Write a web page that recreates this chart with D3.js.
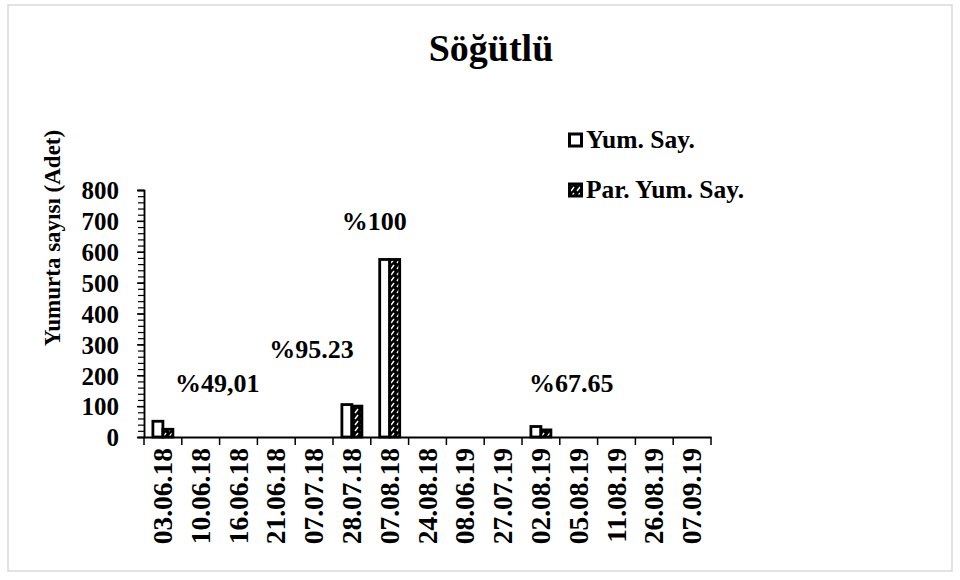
<!DOCTYPE html>
<html>
<head>
<meta charset="utf-8">
<script src="https://cdn.jsdelivr.net/npm/d3@7"></script>
<style>
  html, body { margin: 0; padding: 0; background: #fff; }
  svg text { font-family: "Liberation Serif", "Times New Roman", serif; font-weight: bold; fill: #000; }
</style>
</head>
<body>
<svg id="chart" width="960" height="580"></svg>
<script>
const dates = ["03.06.18","10.06.18","16.06.18","21.06.18","07.07.18","28.07.18","07.08.18","24.08.18","08.06.19","27.07.19","02.08.19","05.08.19","11.08.19","26.08.19","07.09.19"];
const seriesNames = ["Yum. Say.", "Par. Yum. Say."];
const yumSay    = [51, 0, 0, 0, 0, 105, 575, 0, 0, 0, 34, 0, 0, 0, 0];
const parYumSay = [25, 0, 0, 0, 0, 100, 575, 0, 0, 0, 23, 0, 0, 0, 0];
const yTicks = [0, 100, 200, 300, 400, 500, 600, 700, 800];
// percentage annotations: text, position in category units, height in data units
const pctText  = ["%49,01", "%95.23", "%100", "%67.65"];
const pctPos   = [1.94, 4.43, 6.09, 11.3];
const pctLevel = [146, 256, 669, 146];

const svg = d3.select("#chart");
const plotL = 144, plotR = 711, plotT = 190, plotB = 437;

// border
svg.append("rect").attr("x", 8).attr("y", 5).attr("width", 944).attr("height", 566)
  .attr("fill", "#fff").attr("stroke", "#d9d9d9").attr("stroke-width", 1.5);

// pattern for parasitized bars
const defs = svg.append("defs");
const pat = defs.append("pattern").attr("id", "hatch").attr("patternUnits", "userSpaceOnUse")
  .attr("width", 6).attr("height", 6);
pat.append("rect").attr("width", 6).attr("height", 6).attr("fill", "#000");
pat.append("path").attr("d", "M1,5 L4,1").attr("stroke", "#fff").attr("stroke-width", 1.4);

// title
svg.append("text").attr("x", 491).attr("y", 61).attr("text-anchor", "middle")
  .style("font-size", "38px").text("Söğütlü");

const x0 = d3.scaleBand().domain(dates).range([plotL, plotR]).paddingInner(0).paddingOuter(0);
const x1 = d3.scaleBand().domain(seriesNames).range([0, x0.bandwidth()]).paddingInner(0).paddingOuter(0.89);
const y = d3.scaleLinear().domain([0, 800]).range([plotB, plotT]);
const xi = d3.scaleLinear().domain([0, dates.length]).range([plotL, plotR]);

// bars
const data = dates.map((d, i) => ({ date: d, vals: [yumSay[i], parYumSay[i]] }));
const g = svg.append("g");
data.forEach(d => {
  d.vals.forEach((v, k) => {
    if (v <= 0) return;
    g.append("rect")
      .attr("x", x0(d.date) + x1(seriesNames[k]))
      .attr("y", y(v))
      .attr("width", x1.bandwidth())
      .attr("height", y(0) - y(v))
      .attr("fill", k === 0 ? "#fff" : "url(#hatch)")
      .attr("stroke", "#000").attr("stroke-width", 2.8);
  });
});

// y axis with minor ticks
const yMinor = d3.range(0, 801, 20);
svg.append("g").attr("transform", `translate(${plotL},0)`)
  .call(d3.axisLeft(y).tickValues(yMinor).tickSize(6).tickFormat(""))
  .call(s => s.select(".domain").attr("stroke-width", 1.5))
  .call(s => s.selectAll(".tick line").attr("stroke-width", 1.2));
const yAx = svg.append("g").attr("transform", `translate(${plotL},0)`)
  .call(d3.axisLeft(y).tickValues(yTicks).tickSize(7).tickPadding(18))
  .call(s => s.select(".domain").attr("stroke-width", 1.5))
  .call(s => s.selectAll(".tick line").attr("stroke-width", 1.5));
yAx.selectAll("text").style("font-size", "25px").style("font-family", '"Liberation Serif", serif').style("font-weight", "bold").attr("dy", "0.35em");

// x axis
const xAx = svg.append("g").attr("transform", `translate(0,${plotB})`)
  .call(d3.axisBottom(x0).tickSize(0).tickFormat(""));
xAx.select(".domain").attr("stroke-width", 1.8);
svg.append("g").attr("transform", `translate(0,${plotB})`)
  .selectAll("line").data(d3.range(dates.length + 1)).join("line")
  .attr("x1", i => xi(i)).attr("x2", i => xi(i)).attr("y1", 0).attr("y2", 8)
  .attr("stroke", "#000").attr("stroke-width", 1.5);
svg.append("g").selectAll("text").data(dates).join("text")
  .attr("transform", d => `translate(${x0(d) + x0.bandwidth() / 2 + 9},${plotB + 11}) rotate(-90)`)
  .attr("text-anchor", "end")
  .style("font-size", "27.5px")
  .text(d => d);

// y label
svg.append("text").attr("transform", "translate(60,238) rotate(-90)").attr("text-anchor", "middle")
  .style("font-size", "23px").text("Yumurta sayısı (Adet)");

// percentage labels
svg.append("g").selectAll("text").data(pctText).join("text")
  .attr("x", (d, i) => xi(pctPos[i])).attr("y", (d, i) => y(pctLevel[i]))
  .attr("text-anchor", "middle").style("font-size", "26px").text(d => d);

// legend
const leg = svg.append("g");
seriesNames.forEach((s, k) => {
  const ly = 140 + k * 50;
  leg.append("rect").attr("x", 569.5).attr("y", ly - 6).attr("width", 12).attr("height", 12)
    .attr("fill", k === 0 ? "#fff" : "url(#hatch)").attr("stroke", "#000").attr("stroke-width", 3);
  leg.append("text").attr("x", 586).attr("y", ly + 8).style("font-size", "25.5px").text(s);
});
</script>
</body>
</html>
